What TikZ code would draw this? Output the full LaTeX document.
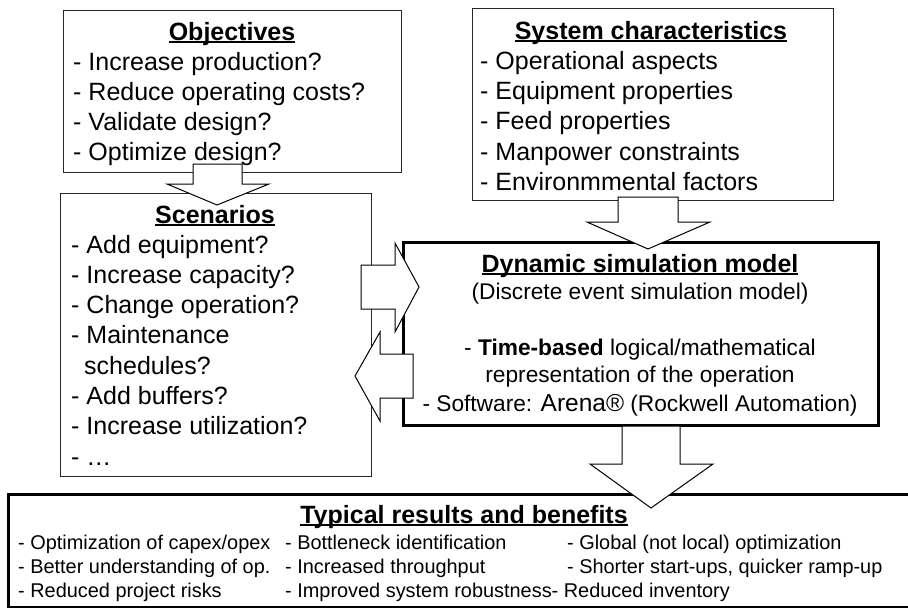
\documentclass[tikz,border=0pt]{standalone}
\usepackage{fontspec}
\setmainfont{Liberation Sans}
\newcommand{\ulbox}[1]{\setbox0=\hbox{#1}\rlap{\rule[-0.13em]{\wd0}{0.08em}}\box0}
\newcommand{\fsBig}{\fontsize{25}{30}\selectfont}
\newcommand{\fsMid}{\fontsize{22.7}{27}\selectfont}
\newcommand{\fsSmall}{\fontsize{19.9}{24}\selectfont}
\begin{document}
\begin{tikzpicture}[x=1pt,y=-1pt,
  thinbox/.style={draw=black!85, line width=1.3pt, fill=white, inner sep=0pt, anchor=north west},
  thickbox/.style={draw=black, line width=3pt, fill=white, inner sep=0pt, anchor=north west},
  blockarrow/.style={draw=black, line width=1pt, fill=white, line join=miter},
  ttl/.style={anchor=base, inner sep=0pt, font=\fsBig\bfseries},
  item/.style={anchor=base west, inner sep=0pt, font=\fsBig},
  mid/.style={anchor=base, inner sep=0pt, font=\fsMid},
  res/.style={anchor=base west, inner sep=0pt, font=\fsSmall}]
\useasboundingbox (0,0) rectangle (908,608);

% boxes
\node[thinbox, minimum width=338pt, minimum height=162pt] (obj) at (63,10) {};
\node[thinbox, minimum width=361pt, minimum height=192pt] (sys) at (472,8) {};
\node[thinbox, minimum width=311pt, minimum height=283pt] (scen) at (60,193) {};
\node[thickbox, minimum width=475pt, minimum height=183pt] (dyn) at (402,241) {};
\node[thickbox, minimum width=904pt, minimum height=113pt] (res) at (7,493) {};

% block arrows
\draw[blockarrow] (193,164) -- (242,164) -- (242,184) -- (269,184) -- (217,205) -- (167,184) -- (193,184) -- cycle;
\draw[blockarrow] (618,197) -- (678,197) -- (678,222) -- (710,222) -- (648,249) -- (587,222) -- (618,222) -- cycle;
\draw[blockarrow] (361,265) -- (395,265) -- (395,243) -- (419,287) -- (395,332) -- (395,309) -- (361,309) -- cycle;
\draw[blockarrow] (413,354) -- (380,354) -- (380,332) -- (355,376) -- (380,421) -- (380,398) -- (413,398) -- cycle;
\draw[blockarrow] (622,426) -- (680,426) -- (680,464) -- (713,464) -- (651,508) -- (590,464) -- (622,464) -- cycle;

% Objectives
\node[ttl] (objT) at (232,40) {\ulbox{Objectives}};
\node[item] (obj1) at (73,70) {- Increase production?};
\node[item] (obj2) at (73,100) {- Reduce operating costs?};
\node[item] (obj3) at (73,130) {- Validate design?};
\node[item] (obj4) at (73,160) {- Optimize design?};

% System characteristics
\node[ttl] (sysT) at (651,39) {\ulbox{System characteristics}};
\node[item] (sys1) at (480,69) {- Operational aspects};
\node[item] (sys2) at (480,99) {- Equipment properties};
\node[item] (sys3) at (480,129) {- Feed properties};
\node[item] (sys4) at (480,160) {- Manpower constraints};
\node[item] (sys5) at (480,190) {- Environmmental factors};

% Scenarios
\node[ttl] (scenT) at (215,223) {\ulbox{Scenarios}};
\node[item] (sc1) at (71,253) {- Add equipment?};
\node[item] (sc2) at (71,283) {- Increase capacity?};
\node[item] (sc3) at (71,313) {- Change operation?};
\node[item] (sc4) at (71,343) {- Maintenance};
\node[item] (sc5) at (84,374) {schedules?};
\node[item] (sc6) at (71,404) {- Add buffers?};
\node[item] (sc7) at (71,434) {- Increase utilization?};
\node[item] (sc8) at (71,465) {- …};

% Dynamic simulation model
\node[ttl] (dynT) at (640,272) {\ulbox{Dynamic simulation model}};
\node[mid] (dyn1) at (640,299) {(Discrete event simulation model)};
\node[mid] (dyn2) at (640,355) {- \textbf{Time-based} logical/mathematical};
\node[mid] (dyn3) at (640,382) {representation of the operation};
\node[mid] (dyn4) at (640,411) {- Software: {\fontsize{24.5}{27}\selectfont Arena®} (Rockwell Automation)};

% Typical results and benefits
\node[ttl] (resT) at (464,523) {\ulbox{Typical results and benefits}};
\node[res] (r11) at (18,549) {- Optimization of capex/opex};
\node[res] (r12) at (285,549) {- Bottleneck identification};
\node[res] (r13) at (567,549) {- Global (not local) optimization};
\node[res] (r21) at (18,573) {- Better understanding of op.};
\node[res] (r22) at (285,573) {- Increased throughput};
\node[res] (r23) at (567,573) {- Shorter start-ups, quicker ramp-up};
\node[res] (r31) at (18,597) {- Reduced project risks};
\node[res] (r32) at (285,597) {- Improved system robustness- Reduced inventory};
\end{tikzpicture}
\end{document}
